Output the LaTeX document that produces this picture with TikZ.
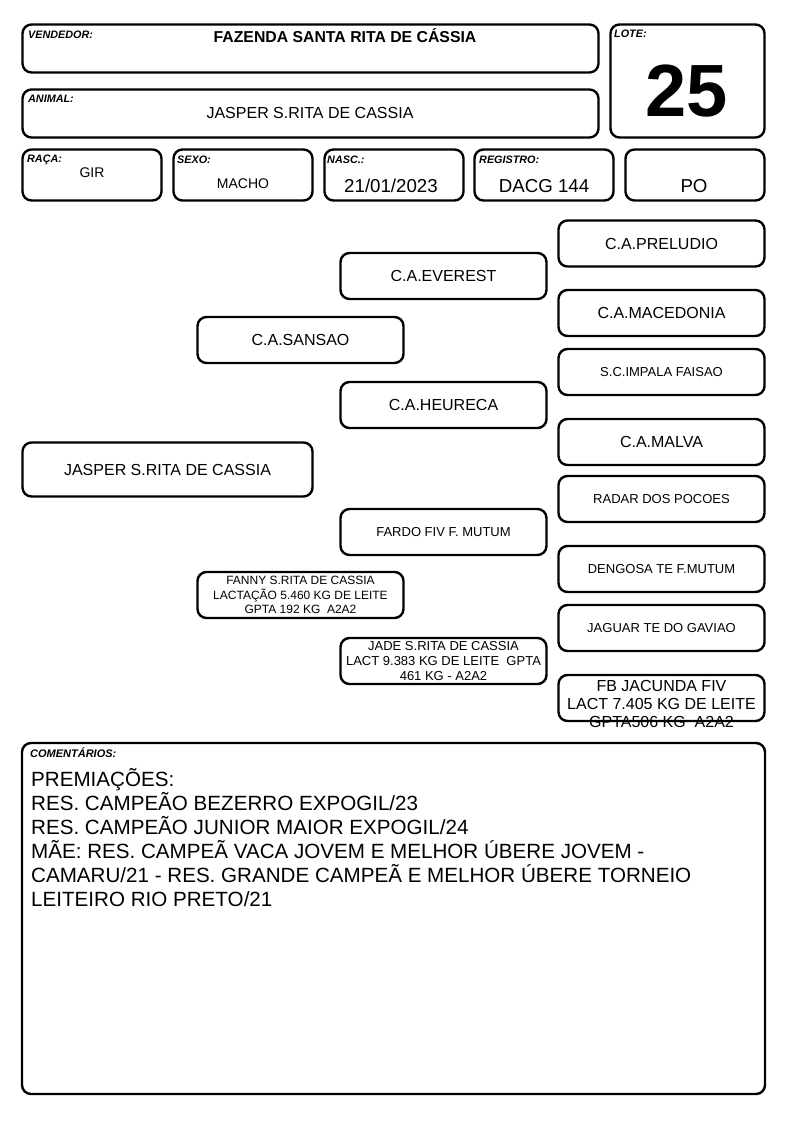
\documentclass[tikz,border=0pt]{standalone}
\usepackage{fontspec}
\setmainfont{Liberation Sans}
\usepackage{tikz}

\newcommand{\fs}[2]{\fontsize{#1}{#2}\selectfont}

\begin{document}
\begin{tikzpicture}[
    x=1pt, y=-1pt,
    card/.style={draw, line width=2.4pt, rounded corners=9pt, inner sep=0pt},
    ped/.style={card, minimum width=206pt, minimum height=46pt, align=center, font=\fs{16}{18}},
    tag/.style={anchor=base west, inner sep=0pt, font=\fs{10.8}{12}\bfseries\itshape},
    val/.style={anchor=base, inner sep=0pt}
]
    \useasboundingbox (0,0) rectangle (794,1123);

    % Header
    \node[card, minimum width=576pt, minimum height=48pt] (vendedor) at (310.5,48.5) {};
    \node[tag] (vendedortag) at (28,39) {VENDEDOR:};
    \node[val, font=\fs{15.8}{18}\bfseries] (vendedorval) at (345,43) {FAZENDA SANTA RITA DE CÁSSIA};

    \node[card, minimum width=576pt, minimum height=48pt] (animal) at (310.5,113.5) {};
    \node[tag] (animaltag) at (28,103) {ANIMAL:};
    \node[val, font=\fs{16}{18}] (animalval) at (310,119) {JASPER S.RITA DE CASSIA};

    \node[card, minimum width=154pt, minimum height=113pt] (lote) at (687.5,81) {};
    \node[tag] (lotetag) at (614,38) {LOTE:};
    \node[val, font=\fs{74}{80}\bfseries] (loteval) at (687,117) {25};

    % Dados
    \node[card, minimum width=139pt, minimum height=51pt] (raca) at (92,175) {};
    \node[tag] (racatag) at (27,163) {RAÇA:};
    \node[val, font=\fs{14}{16}] (racaval) at (92,178) {GIR};

    \node[card, minimum width=139pt, minimum height=51pt] (sexo) at (243,175) {};
    \node[tag] (sexotag) at (177,164) {SEXO:};
    \node[val, font=\fs{14}{16}] (sexoval) at (243,189) {MACHO};

    \node[card, minimum width=139pt, minimum height=51pt] (nasc) at (394,175) {};
    \node[tag] (nasctag) at (327,164) {NASC.:};
    \node[val, font=\fs{18.7}{20}] (nascval) at (391,193) {21/01/2023};

    \node[card, minimum width=139pt, minimum height=51pt] (registro) at (544,175) {};
    \node[tag] (registrotag) at (479,164) {REGISTRO:};
    \node[val, font=\fs{18.7}{20}] (registroval) at (544,193) {DACG 144};

    \node[card, minimum width=139pt, minimum height=51pt] (pelagem) at (695,175) {};
    \node[val, font=\fs{18.7}{20}] (pelagemval) at (694,193) {PO};

    % Genealogia
    \node[ped] (preludio) at (661.5,243.5) {C.A.PRELUDIO};
    \node[ped] (everest) at (443.5,276) {C.A.EVEREST};
    \node[ped] (macedonia) at (661.5,313) {C.A.MACEDONIA};
    \node[ped] (sansao) at (300.5,340) {C.A.SANSAO};
    \node[ped, font=\fs{13}{15}] (impala) at (661.5,372) {S.C.IMPALA FAISAO};
    \node[ped] (heureca) at (443.5,405) {C.A.HEURECA};
    \node[ped] (malva) at (661.5,442) {C.A.MALVA};
    \node[ped, minimum width=290pt, minimum height=54pt] (jasper) at (167.5,469.5) {JASPER S.RITA DE CASSIA};
    \node[ped, font=\fs{13}{15}] (radar) at (661.5,499) {RADAR DOS POCOES};
    \node[ped, font=\fs{13}{15}] (fardo) at (443.5,532) {FARDO FIV F. MUTUM};
    \node[ped, font=\fs{13}{15}] (dengosa) at (661.5,569) {DENGOSA TE F.MUTUM};
    \node[ped, font=\fs{12}{14.5}] (fanny) at (300.5,595) {FANNY S.RITA DE CASSIA\\LACTAÇÃO 5.460 KG DE LEITE\\GPTA 192 KG\ \ A2A2};
    \node[ped, font=\fs{13}{15}] (jaguar) at (661.5,628) {JAGUAR TE DO GAVIAO};
    \node[ped, font=\fs{13}{15}] (jade) at (443.5,661) {JADE S.RITA DE CASSIA\\LACT 9.383 KG DE LEITE\ \ GPTA\\461 KG - A2A2};
    \node[ped] (jacunda) at (661.5,698) {};
    \node[align=center, inner sep=0pt, font=\fs{16}{18}] (jacundatxt) at (661.5,704) {FB JACUNDA FIV\\LACT 7.405 KG DE LEITE\\GPTA506 KG\ \ A2A2};

    % Comentarios
    \node[card, minimum width=743pt, minimum height=351pt] (comentarios) at (393.5,918.5) {};
    \node[tag, font=\fs{11}{12}\bfseries\itshape] (comentariostag) at (30,757) {COMENTÁRIOS:};
    \node[anchor=north west, align=left, inner sep=0pt, font=\fs{20.6}{24}] (premiacoes) at (31,768) {PREMIAÇÕES:\\RES. CAMPEÃO BEZERRO EXPOGIL/23\\RES. CAMPEÃO JUNIOR MAIOR EXPOGIL/24\\MÃE: RES. CAMPEÃ VACA JOVEM E MELHOR ÚBERE JOVEM -\\CAMARU/21 - RES. GRANDE CAMPEÃ E MELHOR ÚBERE TORNEIO\\LEITEIRO RIO PRETO/21};
\end{tikzpicture}
\end{document}
